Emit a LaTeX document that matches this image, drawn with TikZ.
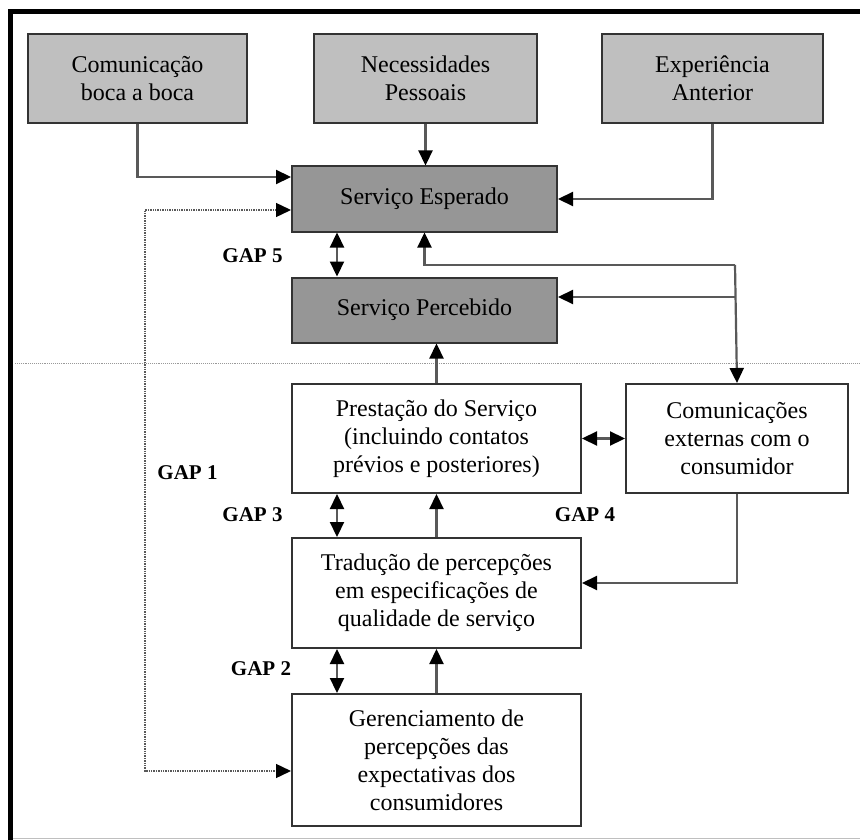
\documentclass[tikz,border=0pt]{standalone}
\usepackage{fontspec}
\setmainfont{Liberation Serif}
\usetikzlibrary{shapes, arrows.meta, calc, positioning}

\begin{document}
\begin{tikzpicture}[x=1pt, y=-1pt]
    \tikzstyle{caixa} = [draw=black!80, line width=2pt, align=center,
	inner sep=0pt, font=\fontsize{24}{28}\selectfont, text=black]
    \tikzstyle{fator} = [caixa, fill=black!25, minimum height=89pt]
    \tikzstyle{servico} = [caixa, fill=black!41, minimum width=265pt,
	minimum height=65pt]
    \tikzstyle{etapa} = [caixa, fill=white, minimum width=289pt]
    \tikzstyle{gap} = [inner sep=0pt, font=\fontsize{21}{24}\selectfont\bfseries]
    \tikzstyle{linha} = [draw=black!65, line width=2.2pt]
    \tikzstyle{seta} = [linha, -{Triangle[length=15pt, width=14pt, color=black]}]
    \tikzstyle{dupla} = [linha, {Triangle[length=15pt, width=14pt, color=black]}-{Triangle[length=15pt, width=14pt, color=black]}]
    \tikzstyle{pontilhado} = [draw=black!65, densely dotted, line width=1.4pt,
	{Triangle[length=15pt, width=14pt, color=black]}-{Triangle[length=15pt, width=14pt, color=black]}]

	\useasboundingbox (0,0) rectangle (860,840);
	% moldura
	\draw[line width=4.5pt] (10.5,840) -- (10.5,11.5) -- (860,11.5);
	\draw[black!25, line width=1pt] (13,838.5) -- (860,838.5);
	\draw[black!40, densely dotted, line width=0.9pt] (15,363) -- (860,363);

	% consumidor
	\node[fator, minimum width=219pt] (boca) at (137.5,78.5) {Comunicação\\boca a boca};
	\node[fator, minimum width=223pt] (nec) at (425.5,78.5) {Necessidades\\Pessoais};
	\node[fator, minimum width=221pt] (exp) at (712.5,78.5) {Experiência\\Anterior};
	\node[servico] (esp) at (424.5,199) {Serviço Esperado};
	\node[servico, below=44pt of esp] (perc) {Serviço Percebido};

	% empresa
	\node[etapa, minimum height=109pt] (prest) at (436.5,438.5)
		{Prestação do Serviço\\(incluindo contatos\\prévios e posteriores)};
	\node[etapa, minimum width=222pt, minimum height=109pt, right=43pt of prest] (com)
		{Comunicações\\externas com o\\consumidor};
	\node[etapa, minimum height=110pt, below=43pt of prest] (trad)
		{Tradução de percepções\\em especificações de\\qualidade de serviço};
	\node[etapa, minimum height=132pt, below=44pt of trad] (ger)
		{Gerenciamento de\\percepções das\\expectativas dos\\consumidores};

	% gaps
	\node[gap] (g5) at (252.5,256) {GAP 5};
	\node[gap] (g1) at (187.5,473) {GAP 1};
	\node[gap] (g3) at (252.5,515) {GAP 3};
	\node[gap] (g4) at (585,515) {GAP 4};
	\node[gap] (g2) at (261,669) {GAP 2};

	\coordinate (jct) at (735,265);
	\coordinate (jct2) at (735,297);
	\coordinate (gapum) at (145,0);
	\coordinate (de) at ([yshift=-11pt]esp.west);
	\coordinate (dg) at ([yshift=-11pt]ger.west);

	\draw[seta] (boca.south) |- ([yshift=22pt]esp.west);
	\draw[seta] (nec.south) -- (nec.south |- esp.north);
	\draw[seta] (exp.south) |- (esp.east);
	\draw[dupla] ([xshift=-87.5pt]esp.south) -- ([xshift=-87.5pt]perc.north);
	\draw[seta] (jct) -| (esp.south);
	\draw[seta] (jct) -- (com.north);
	\draw[seta] (jct2) -- (jct2 -| perc.east);
	\draw[seta] (prest.north) -- (prest.north |- perc.south);
	\draw[dupla] (prest.east) -- (com.west);
	\draw[dupla] ([xshift=-99.5pt]prest.south) -- ([xshift=-99.5pt]trad.north);
	\draw[seta] (trad.north) -- (prest.south);
	\draw[seta] (com.south) |- ([yshift=10pt]trad.east);
	\draw[dupla] ([xshift=-99.5pt]trad.south) -- ([xshift=-99.5pt]ger.north);
	\draw[seta] (ger.north) -- (trad.south);
	\draw[pontilhado] (de) -- (de -| gapum) -- (dg -| gapum) -- (dg);
\end{tikzpicture}
\end{document}
